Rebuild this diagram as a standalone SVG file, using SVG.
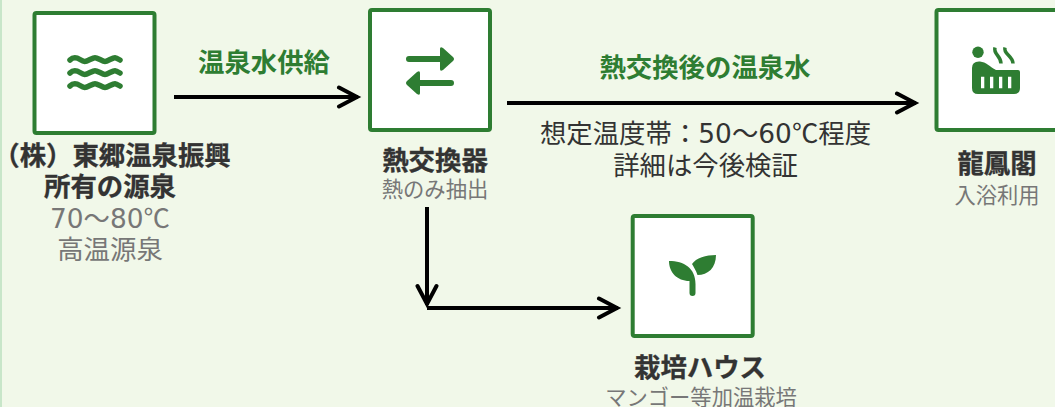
<svg xmlns="http://www.w3.org/2000/svg" width="1055" height="407" viewBox="0 0 1055 407">
<defs>
<style>
text{font-family:"Noto Sans CJK JP","Noto Sans",sans-serif;text-anchor:middle}
.box{fill:#fff;stroke:#2e7d32;stroke-width:4}
.ic{fill:#2e7d32}
.t{font-size:26.4px;font-weight:700;fill:#333;stroke:#333;stroke-width:.3}
.s{font-size:21.3px;fill:#777}
.g{font-size:26.4px;fill:#777}
.e{font-size:26.4px;font-weight:700;fill:#2e7d32}
.n{font-size:26.4px;fill:#333}
.d{font-family:"DejaVu Sans",sans-serif}
.f{font-feature-settings:"fwid"}
.c{fill:none;stroke:#000;stroke-width:4}
.w{fill:none;stroke:#2e7d32;stroke-width:5.500;stroke-linecap:round}
.st{fill:none;stroke:#2e7d32;stroke-width:3.500}
</style>
<marker id="a" markerUnits="userSpaceOnUse" markerWidth="26" markerHeight="24" refX="22" refY="12" orient="auto" viewBox="0 0 26 24"><path d="M3 2.500L21 12L3 21.500" fill="none" stroke="#000" stroke-width="4" stroke-linecap="round"/></marker>
</defs>
<rect width="1055" height="407" fill="#f1f8e9"/>
<rect width="2" height="407" fill="#c8e6c9"/>
<g id="connectors">
<path class="c" d="M174 97H358" marker-end="url(#a)"/>
<path class="c" d="M507 103H916" marker-end="url(#a)"/>
<path class="c" d="M427 207V305" marker-end="url(#a)"/>
<path class="c" d="M427 308H618" marker-end="url(#a)"/>
</g>
<g id="edge-labels">
<text class="e" x="264" y="72">温泉水供給</text>
<text class="e" x="705" y="77">熱交換後の温泉水</text>
<text class="n" x="705.500" y="143">想定温度帯：<tspan class="d">50</tspan>～<tspan class="d">60</tspan><tspan class="f">℃</tspan>程度</text>
<text class="n" x="705.500" y="175">詳細は今後検証</text>
</g>
<g id="node-source">
<rect class="box" x="34.500" y="13" width="120" height="120" rx="2"/>
<path class="w" d="M70 60C73 57 76 57 80 59.500S85 62 90 59.500S95 57 100 59.500S105 62 110 59.500S115 57 120 60M70 73C73 70 76 70 80 72.500S85 75 90 72.500S95 70 100 72.500S105 75 110 72.500S115 70 120 73M70 86C73 83 76 83 80 85.500S85 88 90 85.500S95 83 100 85.500S105 88 110 85.500S115 83 120 86"/>
<text class="t" x="112" y="165">（株）東郷温泉振興</text>
<text class="t" x="110" y="196">所有の源泉</text>
<text class="g" x="110" y="228"><tspan class="d">70</tspan>～<tspan class="d">80</tspan><tspan class="f">℃</tspan></text>
<text class="g" x="110" y="259">高温源泉</text>
</g>
<g id="node-exchanger">
<rect class="box" x="370" y="10" width="120" height="120" rx="2"/>
<path class="ic" d="M409 56H440V49Q440 46 443 48L453 57Q455 59 453 61L443 70Q440 72 440 69V62H409a3 3 0 0 1 0-6ZM451 86H420V93Q420 96 417 94L407 85Q405 83 407 81L417 72Q420 70 420 73V80H451a3 3 0 0 1 0 6Z"/>
<text class="t" x="435" y="170">熱交換器</text>
<text class="s" x="435" y="197">熱のみ抽出</text>
</g>
<g id="node-ryuhokaku">
<rect class="box" x="936.500" y="10" width="122" height="120" rx="2"/>
<circle class="ic" cx="978" cy="52.300" r="5.700"/>
<path class="ic" fill-rule="evenodd" d="M972 68Q972 61 980 61.500C986 62 990 67 996 70H1018Q1020 70 1020 72V88Q1020 94 1014 94H978Q972 94 972 88ZM981 76.700V88.300H984.300V76.700ZM990 76.700V88.300H993.300V76.700ZM999 76.700V88.300H1002.300V76.700ZM1008 76.700V88.300H1011.300V76.700Z"/>
<path class="st" d="M995 47.500C993 54 1001 56 1001 63.500M1005 47.500C1003 54 1013 56 1013 63.500"/>
<text class="t" x="997" y="173">龍鳳閣</text>
<text class="s" x="997" y="203">入浴利用</text>
</g>
<g id="node-greenhouse">
<rect class="box" x="632.700" y="216" width="120" height="120" rx="2"/>
<path class="ic" d="M669 261C684 261 695.500 268 695.500 284V293a3 3 0 0 1-6 0V281C677 281 669 272 669 261ZM716 255C716 268 708 275 697.500 275C696 270 693 266 692 264C696 258 706 255 716 255Z"/>
<text class="t" x="700" y="377">栽培ハウス</text>
<text class="s" x="701" y="405">マンゴー等加温栽培</text>
</g>
</svg>
